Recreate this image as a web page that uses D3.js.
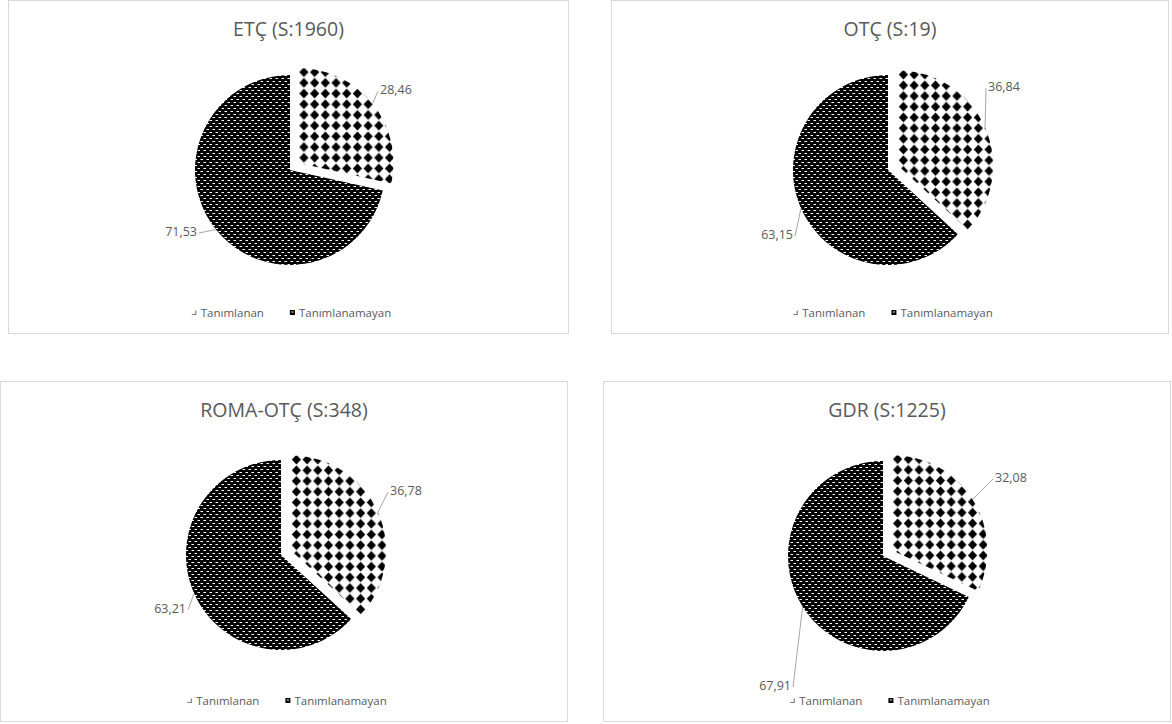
<!DOCTYPE html>
<html><head><meta charset="utf-8">
<script src="https://cdn.jsdelivr.net/npm/d3@7"></script>
<style>body{margin:0;background:#fff}</style></head>
<body><svg id="c" width="1172" height="724"></svg>
<script>
// Data
const categories = ["Tanımlanan", "Tanımlanamayan"];
const titles = ["ETÇ (S:1960)", "OTÇ (S:19)", "ROMA-OTÇ (S:348)", "GDR (S:1225)"];
const tanimlanan = [71.53, 63.15, 63.21, 67.91];
const tanimlanamayan = [28.46, 36.84, 36.78, 32.08];

// Layout of the four chart frames
const panels = [
  {x: 8.5, y: 0.5, w: 560, h: 333, cx: 290, cy: 170, r: 95,
   labels: [{x: 197, y: 232, side: "end"}, {x: 380, y: 90, side: "start"}]},
  {x: 611.5, y: 0.5, w: 557, h: 333, cx: 888, cy: 170, r: 95,
   labels: [{x: 793, y: 235, side: "end"}, {x: 988, y: 87, side: "start"}]},
  {x: 0.5, y: 381.5, w: 567, h: 340, cx: 281, cy: 555, r: 95,
   labels: [{x: 186, y: 609, side: "end"}, {x: 390, y: 491, side: "start"}]},
  {x: 603.5, y: 381.5, w: 567, h: 340, cx: 883, cy: 556, r: 95,
   labels: [{x: 791, y: 686, side: "end"}, {x: 995, y: 478, side: "start"}]}
];
const explode = 11;
const textColor = "#595959";
const font = "'Open Sans', sans-serif";

const svg = d3.select("#c");
const defs = svg.append("defs");

// Dense dark fill: black ground with short white dashes in staggered rows
const pDense = defs.append("pattern").attr("id", "dense")
  .attr("patternUnits", "userSpaceOnUse").attr("width", 6).attr("height", 6);
pDense.append("rect").attr("width", 6).attr("height", 6).attr("fill", "#000");
pDense.append("rect").attr("x", 0.5).attr("y", 1).attr("width", 2.5).attr("height", 1).attr("fill", "#fff");
pDense.append("rect").attr("x", 3.5).attr("y", 4).attr("width", 2.5).attr("height", 1).attr("fill", "#fff");

// Diamond fill: black diamonds on white in a square grid
const ds = 10.7;
const pDiam = defs.append("pattern").attr("id", "diamonds")
  .attr("patternUnits", "userSpaceOnUse").attr("width", ds).attr("height", ds);
pDiam.append("rect").attr("width", ds).attr("height", ds).attr("fill", "#fff");
pDiam.append("path")
  .attr("d", `M${ds/2},${ds/2-4.8}L${ds/2+4.6},${ds/2}L${ds/2},${ds/2+4.8}L${ds/2-4.6},${ds/2}Z`)
  .attr("fill", "#000");

const fills = ["url(#dense)", "url(#diamonds)"];
const fmt = v => v.toFixed(2).replace(".", ",");

panels.forEach((p, i) => {
  const g = svg.append("g");
  g.append("rect").attr("x", p.x).attr("y", p.y).attr("width", p.w).attr("height", p.h)
    .attr("fill", "#fff").attr("stroke", "#d9d9d9").attr("stroke-width", 1);

  g.append("text").attr("x", p.x + p.w / 2).attr("y", p.y + 35)
    .attr("text-anchor", "middle").attr("fill", textColor)
    .style("font-family", font).style("font-size", "19.5px").text(titles[i]);

  const values = [tanimlanan[i], tanimlanamayan[i]];
  const frac2 = values[1] / d3.sum(values);
  const pie = d3.pie().sort(null).value(d => d)
    .startAngle(frac2 * 2 * Math.PI).endAngle(frac2 * 2 * Math.PI + 2 * Math.PI);
  const arcs = pie(values);
  const arc = d3.arc().innerRadius(0).outerRadius(p.r);

  arcs.forEach((a, k) => {
    const mid = (a.startAngle + a.endAngle) / 2;
    const off = k === 1 ? explode : 0;
    const ox = p.cx + off * Math.sin(mid), oy = p.cy - off * Math.cos(mid);
    g.append("path").attr("d", arc(a)).attr("transform", `translate(${ox},${oy})`)
      .attr("fill", fills[k]);

    // data label, leader line runs to the rim point on the slice bisector
    const L = p.labels[k];
    const dir = L.side === "start" ? -1 : 1;
    const x0 = L.x + dir * 2, y0 = L.y + 1;
    const ax = ox + p.r * Math.sin(mid), ay = oy - p.r * Math.cos(mid);
    g.append("path").attr("d", `M${x0},${y0}L${ax},${ay}`)
      .attr("fill", "none").attr("stroke", "#a6a6a6").attr("stroke-width", 1);
    g.append("text").attr("x", L.x).attr("y", L.y).attr("dy", "0.35em")
      .attr("text-anchor", L.side).attr("fill", textColor)
      .style("font-family", font).style("font-size", "12.5px").text(fmt(values[k]));
  });

  // legend
  const lg = g.append("g");
  let cx = 0;
  categories.forEach((c, k) => {
    if (k === 0) {
      lg.append("path").attr("d", `M${cx},${2}L${cx + 4},${2}L${cx + 4},${-2}`)
        .attr("fill", "none").attr("stroke", "#7f7f7f").attr("stroke-width", 1.2);
    } else {
      lg.append("rect").attr("x", cx).attr("y", -2.5).attr("width", 5).attr("height", 5)
        .attr("fill", "#000");
      lg.append("rect").attr("x", cx + 1.5).attr("y", -1).attr("width", 2).attr("height", 1)
        .attr("fill", "#fff");
    }
    const t = lg.append("text").attr("x", cx + 9).attr("y", 0).attr("dy", "0.35em")
      .attr("fill", textColor).style("font-family", font).style("font-size", "11.5px").text(c);
    cx += 9 + t.node().getComputedTextLength() + 26;
  });
  const lw = cx - 26;
  lg.attr("transform", `translate(${p.x + p.w / 2 - lw / 2 + 3},${p.y + p.h - 21})`);
});
</script>
</body></html>
